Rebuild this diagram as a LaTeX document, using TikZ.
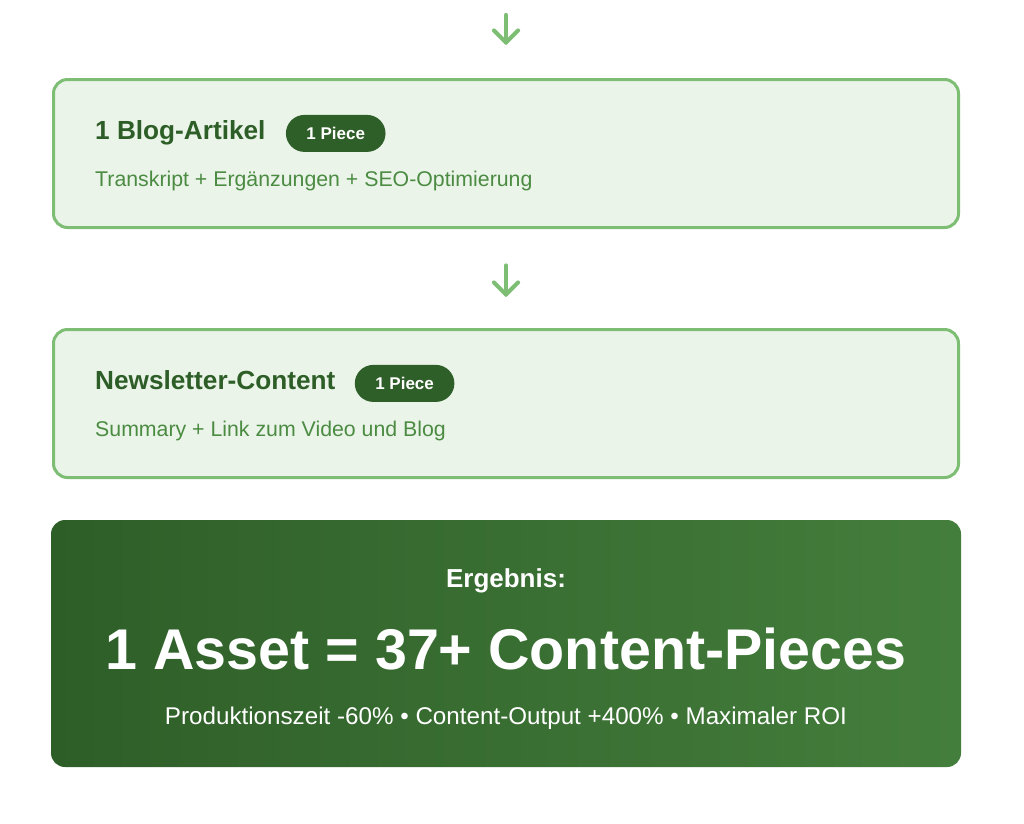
\documentclass[tikz,border=0pt]{standalone}
\usepackage{fontspec}
\setmainfont{Liberation Sans}
\definecolor{boxborder}{HTML}{7DBE74}
\definecolor{boxfill}{HTML}{EAF4E9}
\definecolor{titlegreen}{HTML}{2E5E27}
\definecolor{subgreen}{HTML}{4B8B42}
\definecolor{badgegreen}{HTML}{2F5F28}
\definecolor{resdark}{HTML}{2E5E28}
\definecolor{reslight}{HTML}{447E3C}
\tikzset{
  stagebox/.style={draw=boxborder, fill=boxfill, line width=3pt, rounded corners=14pt,
    minimum width=905pt, minimum height=148pt, inner sep=0pt},
  stagetitle/.style={anchor=base west, inner sep=0pt, text=titlegreen,
    font=\fontsize{26.2}{30}\selectfont\bfseries},
  stagesub/.style={anchor=base west, inner sep=0pt, text=subgreen,
    font=\fontsize{21.3}{25}\selectfont},
  badge/.style={anchor=base west, fill=badgegreen, text=white, rounded corners=18.5pt,
    font=\fontsize{17}{20}\selectfont\bfseries, text height=12.2pt, text depth=0pt,
    inner xsep=20.5pt, inner ysep=12.4pt},
  flowline/.style={draw=boxborder, line width=4.2pt, line cap=round, line join=round},
  resultbox/.style={rounded corners=14pt, left color=resdark, right color=reslight,
    minimum width=910pt, minimum height=247pt, inner sep=0pt},
  restext/.style={anchor=base, inner sep=0pt, text=white}
}
\begin{document}
\begin{tikzpicture}[x=1pt, y=-1pt]
\useasboundingbox[fill=white] (0,0) rectangle (1024,823);

\node[stagebox] (box1) at (506,153.5) {};
\node[stagebox] (box2) at (506,403.5) {};
\node[resultbox] (res) at (506,643.5) {};

\coordinate (top) at (506,15);
\coordinate (a1e) at ([yshift=35.5pt]box1.north);
\coordinate (a2s) at ([yshift=-36.5pt]box1.south);
\coordinate (a2e) at ([yshift=33.5pt]box2.north);

\draw[flowline] (top) -- (a1e);
\draw[flowline] ([xshift=-12pt,yshift=12pt]a1e) -- (a1e) -- ([xshift=12pt,yshift=12pt]a1e);
\draw[flowline] (a2s) -- (a2e);
\draw[flowline] ([xshift=-12pt,yshift=12pt]a2e) -- (a2e) -- ([xshift=12pt,yshift=12pt]a2e);

\node[stagetitle] (t1) at (95,139.5) {1 Blog-Artikel};
\node[badge] (b1) at ([xshift=20pt]t1.base east) {1 Piece};
\node[stagesub] (s1) at (95,186) {Transkript + Ergänzungen + SEO-Optimierung};

\node[stagetitle] (t2) at (95,389.5) {Newsletter-Content};
\node[badge] (b2) at ([xshift=19pt]t2.base east) {1 Piece};
\node[stagesub] (s2) at (95,436) {Summary + Link zum Video und Blog};

\node[restext, font=\fontsize{26}{30}\selectfont\bfseries] (r1) at (506,587) {Ergebnis:};
\node[restext, font=\fontsize{57.4}{66}\selectfont\bfseries] (r2) at (506,669) {1 Asset = 37+ Content-Pieces};
\node[restext, font=\fontsize{24.2}{29}\selectfont] (r3) at (506,724) {Produktionszeit -60\% • Content-Output +400\% • Maximaler ROI};
\end{tikzpicture}
\end{document}
